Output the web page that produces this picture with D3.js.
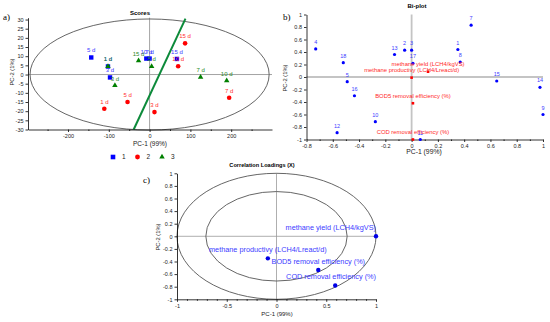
<!DOCTYPE html>
<html>
<head>
<meta charset="utf-8">
<script src="https://cdn.jsdelivr.net/npm/d3@7"></script>
<style>
  body { margin: 0; background: #fff; }
  svg text { font-family: 'Liberation Sans', Arial, sans-serif; }
</style>
</head>
<body>
<svg id="chart"></svg>
<script>
// ---- data ----
const scoreGroups = ['1', '2', '3'];
const scoreColors = ['#0000ff', '#ff0000', '#008000'];
const scoreLabelColors = ['#3c3cff', '#ff3030', '#2a8a2a'];

// group 1 (blue squares), group 2 (red circles), group 3 (green triangles)
const scores1 = [
  {label: '5 d', pc1: -143, pc2: 9.3},
  {label: '1 d', pc1: -102, pc2: 4.4},
  {label: '3 d', pc1: -97, pc2: -1.6},
  {label: '10 d', pc1: -8, pc2: 8.7},
  {label: '7 d', pc1: 0, pc2: 8.7},
  {label: '15 d', pc1: 67, pc2: 8.5}
];
const scores2 = [
  {label: '1 d', pc1: -111, pc2: -18.7},
  {label: '5 d', pc1: -54, pc2: -15},
  {label: '3 d', pc1: 12, pc2: -20.5},
  {label: '10 d', pc1: 70, pc2: 4.5},
  {label: '15 d', pc1: 87, pc2: 17},
  {label: '7 d', pc1: 195, pc2: -12.7}
];
const scores3 = [
  {label: '1 d', pc1: -102, pc2: 4.4},
  {label: '3 d', pc1: -85, pc2: -6},
  {label: '15 d', pc1: -27, pc2: 7.6},
  {label: '5 d', pc1: 5, pc2: 4.4},
  {label: '7 d', pc1: 125, pc2: -1.5},
  {label: '10 d', pc1: 189, pc2: -3.3}
];
const scoreLine = [[-39, -30], [88, 30.5]];
const scoreEllipse = [293, 30.3];
const scoreXTicks = [-200, -100, 0, 100, 200];
const scoreXMinor = [-250, -150, -50, 50, 150, 250];
const scoreYTicks = [-30, -25, -20, -15, -10, -5, 0, 5, 10, 15, 20, 25, 30];

const biplotSamples = [
  {id: '1', pc1: 0.352, pc2: 0.44},
  {id: '2', pc1: -0.053, pc2: 0.43},
  {id: '3', pc1: 0.0, pc2: 0.43},
  {id: '4', pc1: -0.73, pc2: 0.45},
  {id: '5', pc1: -0.49, pc2: -0.075},
  {id: '7', pc1: 0.453, pc2: 0.83},
  {id: '8', pc1: 0.37, pc2: 0.24},
  {id: '9', pc1: 1.0, pc2: -0.6},
  {id: '10', pc1: -0.276, pc2: -0.715},
  {id: '11', pc1: 0.066, pc2: -1.0},
  {id: '12', pc1: -0.567, pc2: -0.89},
  {id: '13', pc1: -0.13, pc2: 0.36},
  {id: '14', pc1: 0.977, pc2: -0.165},
  {id: '15', pc1: 0.648, pc2: -0.064},
  {id: '16', pc1: -0.435, pc2: -0.3},
  {id: '17', pc1: 0.01, pc2: 0.22},
  {id: '18', pc1: -0.52, pc2: 0.23}
];
const biplotVars = [
  {name: 'methane yield (LCH4/kgVS)', pc1: 0.125, pc2: 0.085},
  {name: 'methane productivy (LCH4/Lreact/d)', pc1: 0.0, pc2: -0.01},
  {name: 'BOD5 removal efficiency (%)', pc1: 0.01, pc2: -0.42},
  {name: 'COD removal efficiency (%)', pc1: 0.01, pc2: -1.0}
];
const biXTicks = [-0.8, -0.6, -0.4, -0.2, 0, 0.2, 0.4, 0.6, 0.8, 1];
const biXMinor = [-0.7, -0.5, -0.3, -0.1, 0.1, 0.3, 0.5, 0.7, 0.9];
const biYTicks = [-1, -0.8, -0.6, -0.4, -0.2, 0, 0.2, 0.4, 0.6, 0.8, 1];

const loadings = [
  {name: 'methane yield (LCH4/kgVS)', pc1: 1.0, pc2: 0.0},
  {name: 'methane productivy (LCH4/Lreact/d)', pc1: -0.087, pc2: -0.35},
  {name: 'BOD5 removal efficiency (%)', pc1: 0.42, pc2: -0.535},
  {name: 'COD removal efficiency (%)', pc1: 0.59, pc2: -0.78}
];
const loadingCircles = [1, 0.71];
const corXTicks = [-1, -0.5, 0, 0.5, 1];
const corXMinor = [-0.9, -0.8, -0.7, -0.6, -0.4, -0.3, -0.2, -0.1, 0.1, 0.2, 0.3, 0.4, 0.6, 0.7, 0.8, 0.9];
const corYTicks = [-1, -0.8, -0.6, -0.4, -0.2, 0, 0.2, 0.4, 0.6, 0.8, 1];

// ---- setup ----
const svg = d3.select('#chart').attr('width', 550).attr('height', 322);

function drawAxes(g, x, y, xTicks, xMinor, yTicks, fontSize) {
  const bottom = y.range()[0];
  const left = x.range()[0];
  const xa = g.append('g').attr('transform', `translate(0,${bottom})`)
    .call(d3.axisBottom(x).tickValues(xTicks).tickSize(2.5).tickSizeOuter(0).tickPadding(2).tickFormat(d => String(d)));
  const xm = g.append('g').attr('transform', `translate(0,${bottom})`)
    .call(d3.axisBottom(x).tickValues(xMinor).tickSize(1.5).tickFormat(''));
  xm.select('.domain').remove();
  const ya = g.append('g').attr('transform', `translate(${left},0)`)
    .call(d3.axisLeft(y).tickValues(yTicks).tickSize(2.5).tickSizeOuter(0).tickPadding(2).tickFormat(d => String(d)));
  [xa, xm, ya].forEach(a => {
    a.attr('font-size', fontSize).attr('font-family', null);
    a.selectAll('path, line').attr('stroke', '#000').attr('stroke-width', 0.8);
    a.selectAll('text').attr('fill', '#222');
  });
}

function gridLines(g, x, y, color, w) {
  g.append('line').attr('x1', x(0)).attr('x2', x(0)).attr('y1', y.range()[0]).attr('y2', y.range()[1])
    .attr('stroke', color).attr('stroke-width', w);
  g.append('line').attr('x1', x.range()[0]).attr('x2', x.range()[1]).attr('y1', y(0)).attr('y2', y(0))
    .attr('stroke', color).attr('stroke-width', w);
}

// ---- a) Scores ----
const gA = svg.append('g');
const xScore = d3.scaleLinear().domain([-298, 300]).range([28, 272]);
const yScore = d3.scaleLinear().domain([-30, 31]).range([129.5, 17.7]);

gridLines(gA, xScore, yScore, '#9a9a9a', 0.9);

gA.append('ellipse')
  .attr('cx', xScore(0)).attr('cy', yScore(0))
  .attr('rx', xScore(scoreEllipse[0]) - xScore(0))
  .attr('ry', yScore(0) - yScore(scoreEllipse[1]))
  .attr('fill', 'none').attr('stroke', '#555').attr('stroke-width', 0.9);

gA.append('path')
  .datum(scoreLine)
  .attr('d', d3.line().x(d => xScore(d[0])).y(d => yScore(d[1])))
  .attr('stroke', '#0c8a3a').attr('stroke-width', 2).attr('fill', 'none');

drawAxes(gA, xScore, yScore, scoreXTicks, scoreXMinor, scoreYTicks, 5.5);

const scoreSets = [scores1, scores2, scores3];
const triangle = d3.symbol().type(d3.symbolTriangle).size(13);

scoreSets.forEach((set, i) => {
  const pts = gA.append('g').selectAll('g').data(set).enter().append('g')
    .attr('transform', d => `translate(${xScore(d.pc1)},${yScore(d.pc2)})`);
  if (i === 0) {
    pts.append('rect').attr('x', -2.2).attr('y', -2.2).attr('width', 4.4).attr('height', 4.4).attr('fill', scoreColors[i]);
  } else if (i === 1) {
    pts.append('circle').attr('r', 2.3).attr('fill', scoreColors[i]);
  } else {
    pts.append('path').attr('d', triangle).attr('fill', scoreColors[i]);
  }
  pts.append('text').text(d => d.label)
    .attr('y', -5).attr('text-anchor', 'middle').attr('font-size', 6)
    .attr('fill', scoreLabelColors[i]);
});

gA.append('text').text('Scores').attr('x', 140).attr('y', 14.5)
  .attr('text-anchor', 'middle').attr('font-size', 6).attr('font-weight', 'bold');
gA.append('text').text('PC-1 (99%)').attr('x', 150).attr('y', 145.5)
  .attr('text-anchor', 'middle').attr('font-size', 6.5).attr('fill', '#222');
gA.append('text').text('PC-2 (1%)').attr('transform', 'translate(13.5,72) rotate(-90)')
  .attr('text-anchor', 'middle').attr('font-size', 5.8).attr('fill', '#222');
gA.append('text').text('a)').attr('x', 3).attr('y', 20)
  .attr('font-size', 9).style('font-family', "'Liberation Serif', serif");

// legend
const legend = gA.append('g').attr('transform', 'translate(113,157)');
scoreGroups.forEach((name, i) => {
  const item = legend.append('g').attr('transform', `translate(${i * 24.5},0)`);
  if (i === 0) item.append('rect').attr('x', -2.3).attr('y', -2.3).attr('width', 4.6).attr('height', 4.6).attr('fill', scoreColors[i]);
  else if (i === 1) item.append('circle').attr('r', 2.4).attr('fill', scoreColors[i]);
  else item.append('path').attr('d', triangle).attr('fill', scoreColors[i]);
  item.append('text').text(name).attr('x', 9).attr('y', 2.2).attr('font-size', 6.5).attr('fill', '#222');
});

// ---- b) Bi-plot ----
const gB = svg.append('g');
const xBi = d3.scaleLinear().domain([-0.8, 1]).range([306.5, 543]);
const yBi = d3.scaleLinear().domain([-1, 1]).range([139.5, 14.5]);

gridLines(gB, xBi, yBi, '#c4c4c4', 1.8);
drawAxes(gB, xBi, yBi, biXTicks, biXMinor, biYTicks, 5.5);

const samples = gB.append('g').selectAll('g').data(biplotSamples).enter().append('g')
  .attr('transform', d => `translate(${xBi(d.pc1)},${yBi(d.pc2)})`);
samples.append('circle').attr('r', 1.6).attr('fill', '#0000ff');
samples.append('text').text(d => d.id).attr('y', -5).attr('text-anchor', 'middle')
  .attr('font-size', 5.5).attr('fill', '#3c3cff');

const vars = gB.append('g').selectAll('g').data(biplotVars).enter().append('g')
  .attr('transform', d => `translate(${xBi(d.pc1)},${yBi(d.pc2)})`);
vars.append('rect').attr('x', -1.3).attr('y', -1.3).attr('width', 2.6).attr('height', 2.6).attr('fill', '#ff0000');
vars.append('text').text(d => d.name).attr('y', -5.5).attr('text-anchor', 'middle')
  .attr('font-size', 5.9).attr('fill', '#ff2a2a');

gB.append('text').text('Bi-plot').attr('x', 417).attr('y', 8)
  .attr('text-anchor', 'middle').attr('font-size', 6).attr('font-weight', 'bold');
gB.append('text').text('PC-1 (99%)').attr('x', 424).attr('y', 154)
  .attr('text-anchor', 'middle').attr('font-size', 6.8).attr('fill', '#222');
gB.append('text').text('PC-2 (1%)').attr('transform', 'translate(287,78) rotate(-90)')
  .attr('text-anchor', 'middle').attr('font-size', 5.8).attr('fill', '#222');
gB.append('text').text('b)').attr('x', 283).attr('y', 20)
  .attr('font-size', 9).style('font-family', "'Liberation Serif', serif");

// ---- c) Correlation Loadings ----
const gC = svg.append('g');
const xCor = d3.scaleLinear().domain([-1, 1]).range([177, 376]);
const yCor = d3.scaleLinear().domain([-1, 1]).range([299.3, 173.3]);

gridLines(gC, xCor, yCor, '#9a9a9a', 0.8);

gC.append('g').selectAll('ellipse').data(loadingCircles).enter().append('ellipse')
  .attr('cx', xCor(0)).attr('cy', yCor(0))
  .attr('rx', d => xCor(d) - xCor(0)).attr('ry', d => yCor(0) - yCor(d))
  .attr('fill', 'none').attr('stroke', '#555').attr('stroke-width', 0.9);

drawAxes(gC, xCor, yCor, corXTicks, corXMinor, corYTicks, 5.5);

const loads = gC.append('g').selectAll('g').data(loadings).enter().append('g');
loads.append('circle').attr('cx', d => xCor(d.pc1)).attr('cy', d => yCor(d.pc2))
  .attr('r', 2.2).attr('fill', '#0000e6');
loads.append('text').text(d => d.name)
  .attr('y', d => yCor(d.pc2) - 6.5)
  .attr('font-size', 7.3).attr('fill', '#3c3cff')
  .attr('text-anchor', 'middle')
  .attr('x', d => xCor(d.pc1))
  .each(function (d) {
    // keep label inside the plot on the right side
    const w = this.getComputedTextLength();
    const right = xCor.range()[1];
    if (xCor(d.pc1) + w / 2 > right) d3.select(this).attr('x', right - w / 2);
  });

gC.append('text').text('Correlation Loadings (X)').attr('x', 262).attr('y', 167)
  .attr('text-anchor', 'middle').attr('font-size', 5.6).attr('font-weight', 'bold');
gC.append('text').text('PC-1 (99%)').attr('x', 277).attr('y', 316)
  .attr('text-anchor', 'middle').attr('font-size', 6).attr('fill', '#222');
gC.append('text').text('PC-2 (1%)').attr('transform', 'translate(160,237) rotate(-90)')
  .attr('text-anchor', 'middle').attr('font-size', 5.8).attr('fill', '#222');
gC.append('text').text('c)').attr('x', 143).attr('y', 183)
  .attr('font-size', 9).style('font-family', "'Liberation Serif', serif");
</script>
</body>
</html>
